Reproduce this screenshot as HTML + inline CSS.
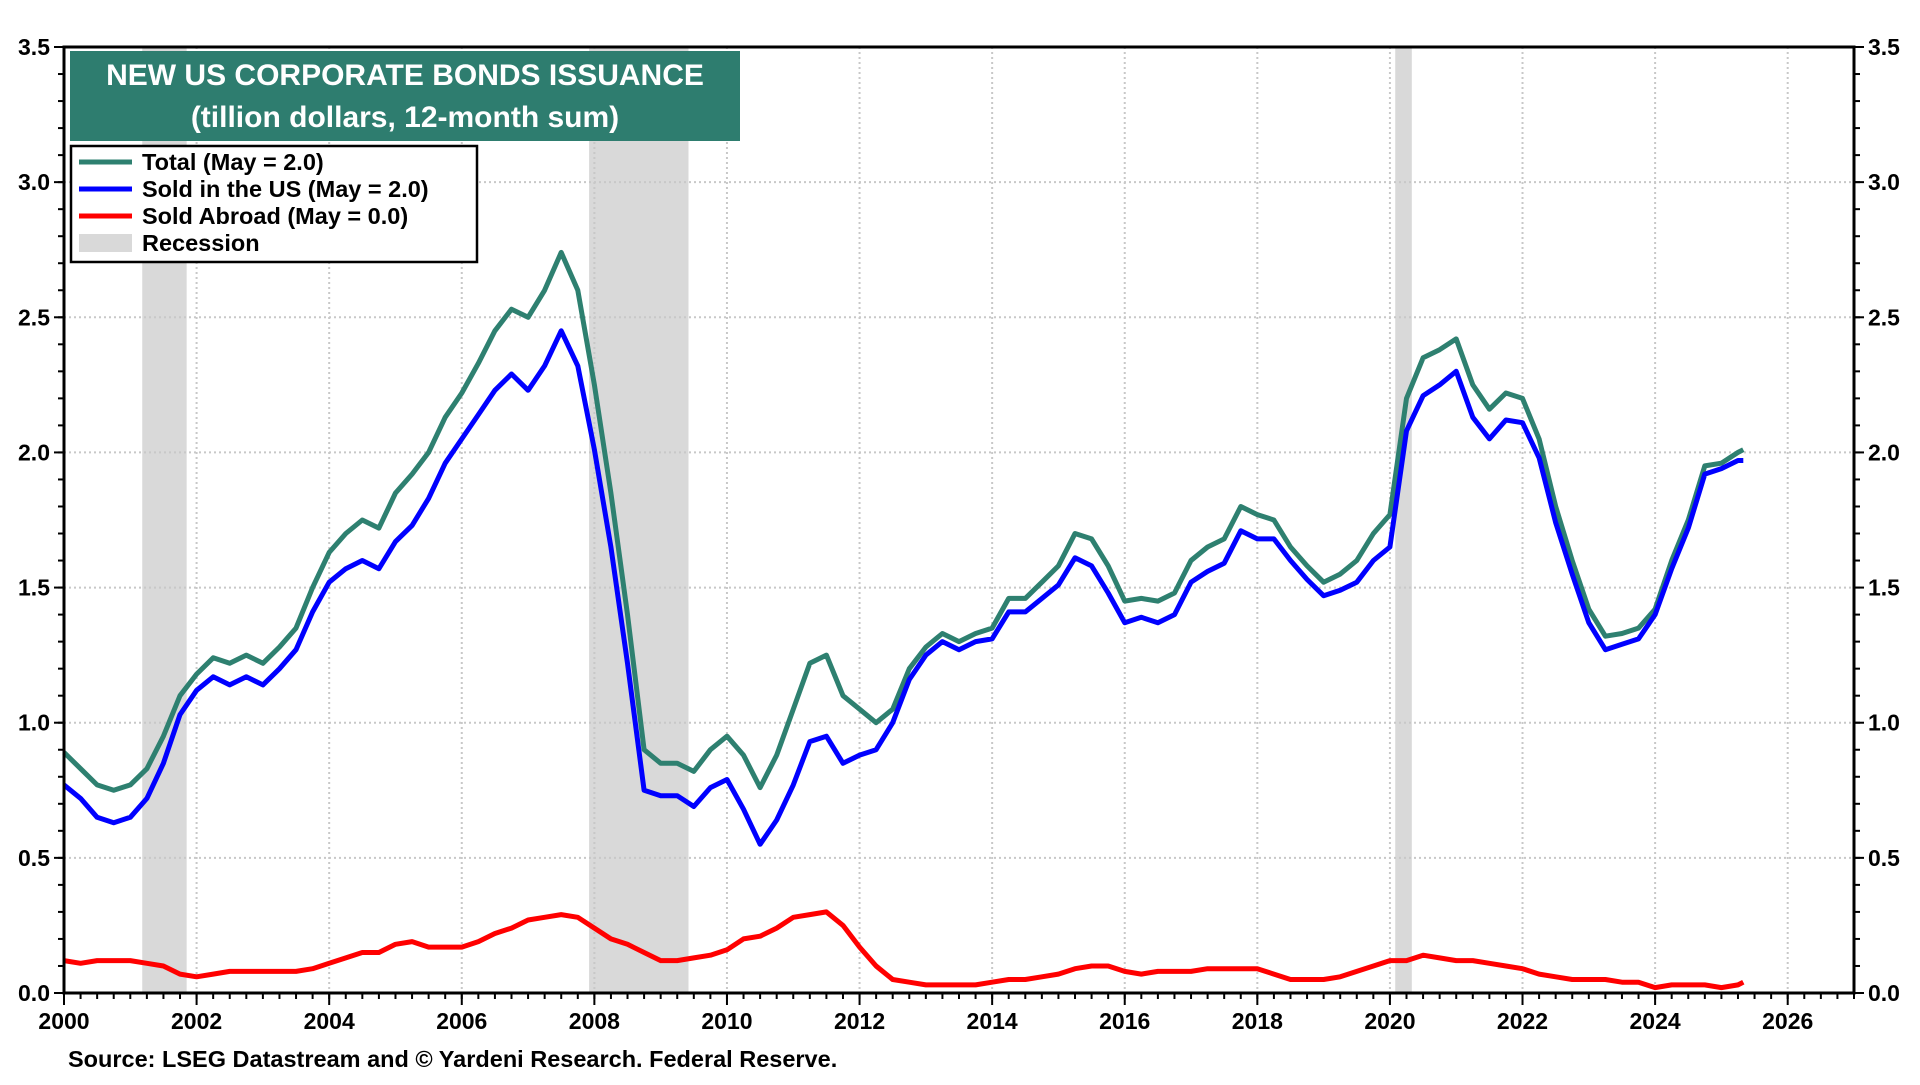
<!DOCTYPE html>
<html><head><meta charset="utf-8"><style>
body{margin:0;background:#fff;width:1920px;height:1080px;overflow:hidden;font-family:"Liberation Sans",Arial,sans-serif}
svg text{font-family:"Liberation Sans",Arial,sans-serif;font-weight:bold}
</style></head><body>
<svg id="chart" width="1920" height="1080" xmlns="http://www.w3.org/2000/svg"></svg>
<script>
const startYear = 2000;
const totalValues = [0.89,0.83,0.77,0.75, 0.77,0.83,0.95,1.10, 1.18,1.24,1.22,1.25, 1.22,1.28,1.35,1.50, 1.63,1.70,1.75,1.72, 1.85,1.92,2.00,2.13, 2.22,2.33,2.45,2.53, 2.50,2.60,2.74,2.60, 2.25,1.85,1.40,0.90, 0.85,0.85,0.82,0.90, 0.95,0.88,0.76,0.88, 1.05,1.22,1.25,1.10, 1.05,1.00,1.05,1.20, 1.28,1.33,1.30,1.33, 1.35,1.46,1.46,1.52, 1.58,1.70,1.68,1.58, 1.45,1.46,1.45,1.48, 1.60,1.65,1.68,1.80, 1.77,1.75,1.65,1.58, 1.52,1.55,1.60,1.70, 1.77,2.20,2.35,2.38, 2.42,2.25,2.16,2.22, 2.20,2.05,1.80,1.60, 1.42,1.32,1.33,1.35, 1.42,1.60,1.75,1.95, 1.96,2.00,2.01];
const usValues = [0.77,0.72,0.65,0.63, 0.65,0.72,0.85,1.03, 1.12,1.17,1.14,1.17, 1.14,1.20,1.27,1.41, 1.52,1.57,1.60,1.57, 1.67,1.73,1.83,1.96, 2.05,2.14,2.23,2.29, 2.23,2.32,2.45,2.32, 2.01,1.65,1.22,0.75, 0.73,0.73,0.69,0.76, 0.79,0.68,0.55,0.64, 0.77,0.93,0.95,0.85, 0.88,0.90,1.00,1.16, 1.25,1.30,1.27,1.30, 1.31,1.41,1.41,1.46, 1.51,1.61,1.58,1.48, 1.37,1.39,1.37,1.40, 1.52,1.56,1.59,1.71, 1.68,1.68,1.60,1.53, 1.47,1.49,1.52,1.60, 1.65,2.08,2.21,2.25, 2.30,2.13,2.05,2.12, 2.11,1.98,1.74,1.55, 1.37,1.27,1.29,1.31, 1.40,1.57,1.72,1.92, 1.94,1.97,1.97];
const abroadValues = [0.12,0.11,0.12,0.12, 0.12,0.11,0.10,0.07, 0.06,0.07,0.08,0.08, 0.08,0.08,0.08,0.09, 0.11,0.13,0.15,0.15, 0.18,0.19,0.17,0.17, 0.17,0.19,0.22,0.24, 0.27,0.28,0.29,0.28, 0.24,0.20,0.18,0.15, 0.12,0.12,0.13,0.14, 0.16,0.20,0.21,0.24, 0.28,0.29,0.30,0.25, 0.17,0.10,0.05,0.04, 0.03,0.03,0.03,0.03, 0.04,0.05,0.05,0.06, 0.07,0.09,0.10,0.10, 0.08,0.07,0.08,0.08, 0.08,0.09,0.09,0.09, 0.09,0.07,0.05,0.05, 0.05,0.06,0.08,0.10, 0.12,0.12,0.14,0.13, 0.12,0.12,0.11,0.10, 0.09,0.07,0.06,0.05, 0.05,0.05,0.04,0.04, 0.02,0.03,0.03,0.03, 0.02,0.03,0.04];
const recessionStarts = [2001.18, 2007.92, 2020.08];
const recessionEnds = [2001.85, 2009.42, 2020.33];
const yTicks = [0.0,0.5,1.0,1.5,2.0,2.5,3.0,3.5];
const xTickYears = [2000,2002,2004,2006,2008,2010,2012,2014,2016,2018,2020,2022,2024,2026];

const L=64,R=1854,T=47,B=993,X0=2000,X1=2027,YMAX=3.5;
const xs=v=>L+(v-X0)/(X1-X0)*(R-L);
const ys=v=>B-v/YMAX*(B-T);
const yearOf=i=>startYear+(i<=101?i*0.25:25.33);
const svg=document.getElementById('chart');
const NS='http://www.w3.org/2000/svg';
function mk(tag,attrs,parent){const e=document.createElementNS(NS,tag);for(const k in attrs)e.setAttribute(k,attrs[k]);(parent||svg).appendChild(e);return e;}

recessionStarts.forEach((s,i)=>{
  const r=mk('rect',{x:xs(s),y:T,width:xs(recessionEnds[i])-xs(s),height:B-T,fill:'#d9d9d9'});
  
  
});
yTicks.forEach(v=>{
  if(v>0&&v<3.5){const g=mk('line',{x1:L,x2:R,y1:ys(v),y2:ys(v),stroke:'#c8c8c8','stroke-width':2,'stroke-dasharray':'2,3'});
  }
  const tl=mk('text',{x:L-14,y:ys(v)+8,'text-anchor':'end','font-size':23});tl.textContent=v.toFixed(1);
  
  const tr=mk('text',{x:R+14,y:ys(v)+8,'text-anchor':'start','font-size':23});tr.textContent=v.toFixed(1);
  
  mk('line',{x1:L-10,x2:L,y1:ys(v),y2:ys(v),stroke:'#000','stroke-width':2});
  mk('line',{x1:R,x2:R+10,y1:ys(v),y2:ys(v),stroke:'#000','stroke-width':2});
});
for(let v=0.1;v<3.5;v+=0.1){mk('line',{x1:L-6,x2:L,y1:ys(v),y2:ys(v),stroke:'#000','stroke-width':2});mk('line',{x1:R,x2:R+6,y1:ys(v),y2:ys(v),stroke:'#000','stroke-width':2});}
xTickYears.forEach(yr=>{
  if(yr>X0){const g=mk('line',{x1:xs(yr),x2:xs(yr),y1:T,y2:B,stroke:'#c8c8c8','stroke-width':2,'stroke-dasharray':'2,3'});
  }
  const t=mk('text',{x:xs(yr),y:B+36,'text-anchor':'middle','font-size':23});t.textContent=yr;
  
  mk('line',{x1:xs(yr),x2:xs(yr),y1:B,y2:B+12,stroke:'#000','stroke-width':2});
});
for(let q=X0;q<=X1;q+=0.25){mk('line',{x1:xs(q),x2:xs(q),y1:B,y2:B+6,stroke:'#000','stroke-width':2});}

function series(vals,color,name){
  const d=vals.map((v,i)=>(i?'L':'M')+xs(yearOf(i)).toFixed(1)+','+ys(v).toFixed(1)).join(' ');
  const p=mk('path',{d:d,fill:'none',stroke:color,'stroke-width':5,'stroke-linejoin':'round'});
  
  
}
series(abroadValues,'#ff0000','sold-abroad-line');
series(totalValues,'#2e8070','total-line');
series(usValues,'#0000ff','sold-in-us-line');

const frame=mk('rect',{x:L,y:T,width:R-L,height:B-T,fill:'none',stroke:'#000','stroke-width':3});


const tb=mk('rect',{x:70,y:51,width:670,height:90,fill:'#2e7d6f'});

const t1=mk('text',{x:405,y:85,'text-anchor':'middle','font-size':30,fill:'#fff'});t1.textContent='NEW US CORPORATE BONDS ISSUANCE';

const t2=mk('text',{x:405,y:127,'text-anchor':'middle','font-size':30,fill:'#fff'});t2.textContent='(tillion dollars, 12-month sum)';


const lg=mk('rect',{x:71,y:146,width:406,height:116,fill:'#fff',stroke:'#000','stroke-width':2.5});

const items=[['Total (May = 2.0)','#2e8070','line'],['Sold in the US (May = 2.0)','#0000ff','line'],['Sold Abroad (May = 0.0)','#ff0000','line'],['Recession','#d9d9d9','box']];
items.forEach((it,i)=>{
  const y=162+i*27;
  if(it[2]==='line')mk('line',{x1:79,x2:132,y1:y,y2:y,stroke:it[1],'stroke-width':5});
  else mk('rect',{x:79,y:y-9,width:53,height:18,fill:it[1]});
  const t=mk('text',{x:142,y:y+8,'font-size':23.5});t.textContent=it[0];
  
});
const src=mk('text',{x:68,y:1067,'font-size':23.5});src.textContent='Source: LSEG Datastream and © Yardeni Research. Federal Reserve.';

</script>
</body></html>
